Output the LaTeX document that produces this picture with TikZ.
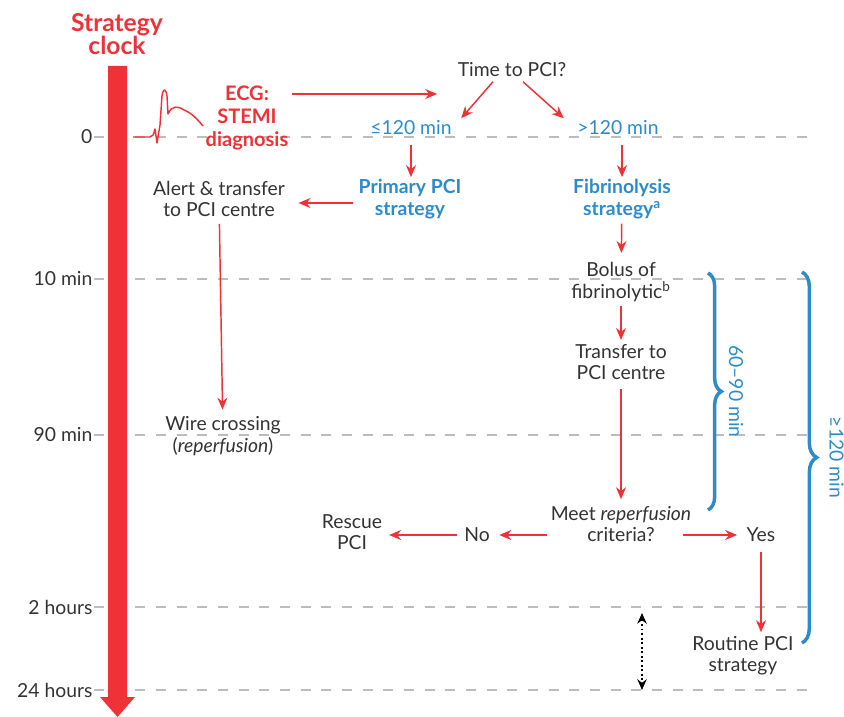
\documentclass[tikz,border=0pt]{standalone}
\usepackage{fontspec}
\setmainfont{Lato}
\usepackage{tikz}
\usetikzlibrary{arrows.meta,positioning,calc,decorations.pathreplacing}
\definecolor{clockRed}{HTML}{EE3237}
\definecolor{pciBlue}{HTML}{2D8BCA}
\definecolor{gridGray}{HTML}{BDBDBD}
\definecolor{textGray}{HTML}{333333}

\begin{document}
\begin{tikzpicture}[x=0.75pt, y=-0.75pt, >=Stealth,
  font=\fontsize{14.5}{16}\selectfont, text=textGray,
  txt/.style={align=center, inner sep=1pt},
  blu/.style={txt, text=pciBlue},
  blubold/.style={blu, font=\fontsize{14.5}{17}\selectfont\bfseries},
  redbold/.style={txt, text=clockRed, font=\fontsize{15}{17.5}\selectfont\bfseries},
  flow/.style={clockRed, line width=1.1pt, -{Stealth[length=9pt,width=7.5pt]}},
  timeline/.style={gridGray, line width=1.5pt, dash pattern=on 7.5pt off 8pt},
  span/.style={pciBlue, line width=2.6pt, decorate, decoration={brace, amplitude=#1}}]
\useasboundingbox (0,0) rectangle (844,717);
% ---- time grid ----
\foreach \t/\y in {0/137, 10 min/279, 90 min/435, 2 hours/607, 24 hours/690}{
  \node[anchor=east, inner sep=1pt] (t\y) at (94,\y) {\t};
  \draw[timeline] (t\y.east) -- (815,\y);
}
% ---- strategy clock ----
\fill[clockRed] (108,66) -- (127,66) -- (127,697) -- (135,697) -- (117.5,717)
  -- (100,697) -- (108,697) -- cycle;
\node[txt, text=clockRed, font=\fontsize{18.5}{17.5}\selectfont\bfseries] (clock) at (117,34) {Strategy\\clock};
\draw[clockRed, line width=1.1pt, line join=round] (133,137) -- (150,137)
  .. controls (153,136) .. (155,129) -- (157,143) -- (160,125) -- (162,96)
  .. controls (163,88) and (166,88) .. (167,96) -- (168,114)
  .. controls (172,105) and (178,106) .. (184,110)
  .. controls (192,113) and (198,120) .. (203,126);
% ---- nodes ----
\node[redbold] (ecg) at (247,118) {ECG:\\STEMI\\diagnosis};
\node[txt] (timeq) at (512,70) {Time to PCI?};
\node[blu] (le) at (411,128) {≤120 min};
\node[blu] (gt) at (618,128) {>120 min};
\node[blubold] (primary) at (410,199) {Primary PCI\\strategy};
\node[blubold] (fibr) at (622,199) {Fibrinolysis\\strategy\textsuperscript{a}};
\node[txt] (alert) at (219,199) {Alert \& transfer\\to PCI centre};
\node[txt] (wire) at (223,436) {Wire crossing\\(\textit{reperfusion})};
\node[txt] (bolus) at (621,282) {Bolus of\\fibrinolytic\textsuperscript{b}};
\node[txt] (transfer) at (621,362) {Transfer to\\PCI centre};
\node[txt] (meet) at (621,524) {Meet \textit{reperfusion}\\criteria?};
\node[txt] (no) at (477,535) {No};
\node[txt] (rescue) at (352,532) {Rescue\\PCI};
\node[txt] (yes) at (761,535) {Yes};
\node[txt] (routine) at (743,656) {Routine PCI\\strategy};
% ---- arrows ----
\coordinate (ecgout) at ($(ecg.east)+(2,-24)$);
\coordinate (pciin) at ($(timeq.west)+(-19,0)$);
\draw[flow] (ecgout) -- (ecgout -| pciin);
\draw[flow] ($(timeq.south)+(-19,3)$) -- ($(le.north east)+(8,-1)$);
\draw[flow] ($(timeq.south)+(11,3)$) -- ($(gt.north west)+(-12,-1)$);
\draw[flow, shorten <=6pt] (le.south) -- (le.south |- primary.north);
\draw[flow, shorten <=6pt] (gt.south -| fibr) -- (fibr.north);
\draw[flow] ($(primary.west)+(-4,4)$) -- ($(alert.east)+(12,4)$);
\draw[flow, shorten <=4pt, shorten >=4pt] (alert) -- (wire);
\draw[flow, shorten <=2pt, shorten >=6pt] (fibr) -- (bolus);
\draw[flow, shorten <=2pt, shorten >=2pt] (bolus) -- (transfer);
\draw[flow, shorten <=6pt, shorten >=4pt] (transfer.south) -- (transfer.south |- meet.north);
\draw[flow] ($(meet.west)+(-2,11)$) -- ($(no.east)+(8,0)$);
\draw[flow, shorten <=4pt, shorten >=4pt] (no.west) -- (no.west -| rescue.east);
\draw[flow] ($(meet.east)+(-10,11)$) -- ($(yes.west)+(-8,0)$);
\draw[flow, shorten <=6pt, shorten >=2pt] (yes.south) -- (yes.south |- routine.north);
% ---- time spans ----
\coordinate (dtop) at (642,613);
\coordinate (dbot) at (642,690);
\draw[black, line width=1.4pt, dash pattern=on 1.4pt off 2pt, {Stealth[length=8pt,width=7pt]}-{Stealth[length=8pt,width=7pt]}] (dtop) -- (dbot);
\draw[span=10pt] (708,273) -- (708,510) node[midway, right=11pt, rotate=-90, anchor=south, text=pciBlue] (short) {60--90 min};
\draw[span=11pt] (802,272) -- (802,643) node[midway, right=16pt, rotate=-90, anchor=south, text=pciBlue] (long) {≥120 min};
\end{tikzpicture}
\end{document}
